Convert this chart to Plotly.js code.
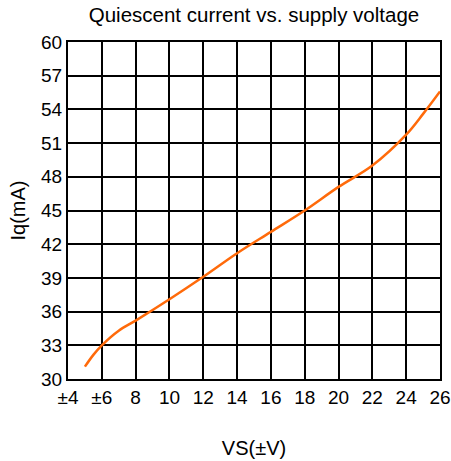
<!DOCTYPE html>
<html>
<head>
<meta charset="utf-8">
<script src="https://cdn.plot.ly/plotly-3.0.1.min.js"></script>
<style>html,body{margin:0;padding:0;background:#fff;}#chart{width:451px;height:461px;}</style>
</head>
<body>
<div id="chart"></div>
<script>
const vs = [5, 5.5, 6, 7, 8, 10, 12, 14, 16, 18, 20, 22, 24, 25, 26];
const iq = [31.1, 32.15, 33.0, 34.3, 35.2, 37.1, 39.1, 41.2, 43.1, 45.0, 47.1, 49.0, 51.75, 53.6, 55.6];
const xTickVals = [4, 6, 8, 10, 12, 14, 16, 18, 20, 22, 24, 26];
const xTickText = ["±4", "±6", "8", "10", "12", "14", "16", "18", "20", "22", "24", "26"];
const yTickVals = [30, 33, 36, 39, 42, 45, 48, 51, 54, 57, 60];

const fam = "Liberation Sans, Arial, sans-serif";
const tickFont = {family: fam, size: 19, color: "#000"};
const titleFont = {family: fam, size: 20, color: "#000"};

Plotly.newPlot("chart", [{
  x: vs, y: iq, type: "scatter", mode: "lines",
  line: {color: "#FF6A0A", width: 2.5, shape: "spline", smoothing: 1},
  hoverinfo: "none", showlegend: false
}], {
  width: 451, height: 461,
  margin: {l: 68, r: 11, t: 42, b: 82},
  paper_bgcolor: "#fff", plot_bgcolor: "#fff",
  font: tickFont,
  title: {text: "Quiescent current vs. supply voltage", font: {family: fam, size: 20.5, color: "#000"}, xref: "paper", x: 0.5, xanchor: "center", yref: "container", y: 0.967, yanchor: "middle"},
  xaxis: {
    range: [4, 26], tickvals: xTickVals, ticktext: xTickText,
    showgrid: true, gridcolor: "#000", gridwidth: 2,
    showline: true, linecolor: "#000", linewidth: 2, mirror: true,
    zeroline: false, ticks: "", tickfont: tickFont,
    title: {text: "VS(±V)", font: titleFont, standoff: 34}
  },
  yaxis: {
    range: [30, 60], tickvals: yTickVals,
    showgrid: true, gridcolor: "#000", gridwidth: 2,
    showline: true, linecolor: "#000", linewidth: 2, mirror: true,
    zeroline: false, ticks: "", tickfont: tickFont,
    title: {text: "Iq(mA)", font: titleFont, standoff: 10}
  }
}, {staticPlot: true});
</script>
</body>
</html>
